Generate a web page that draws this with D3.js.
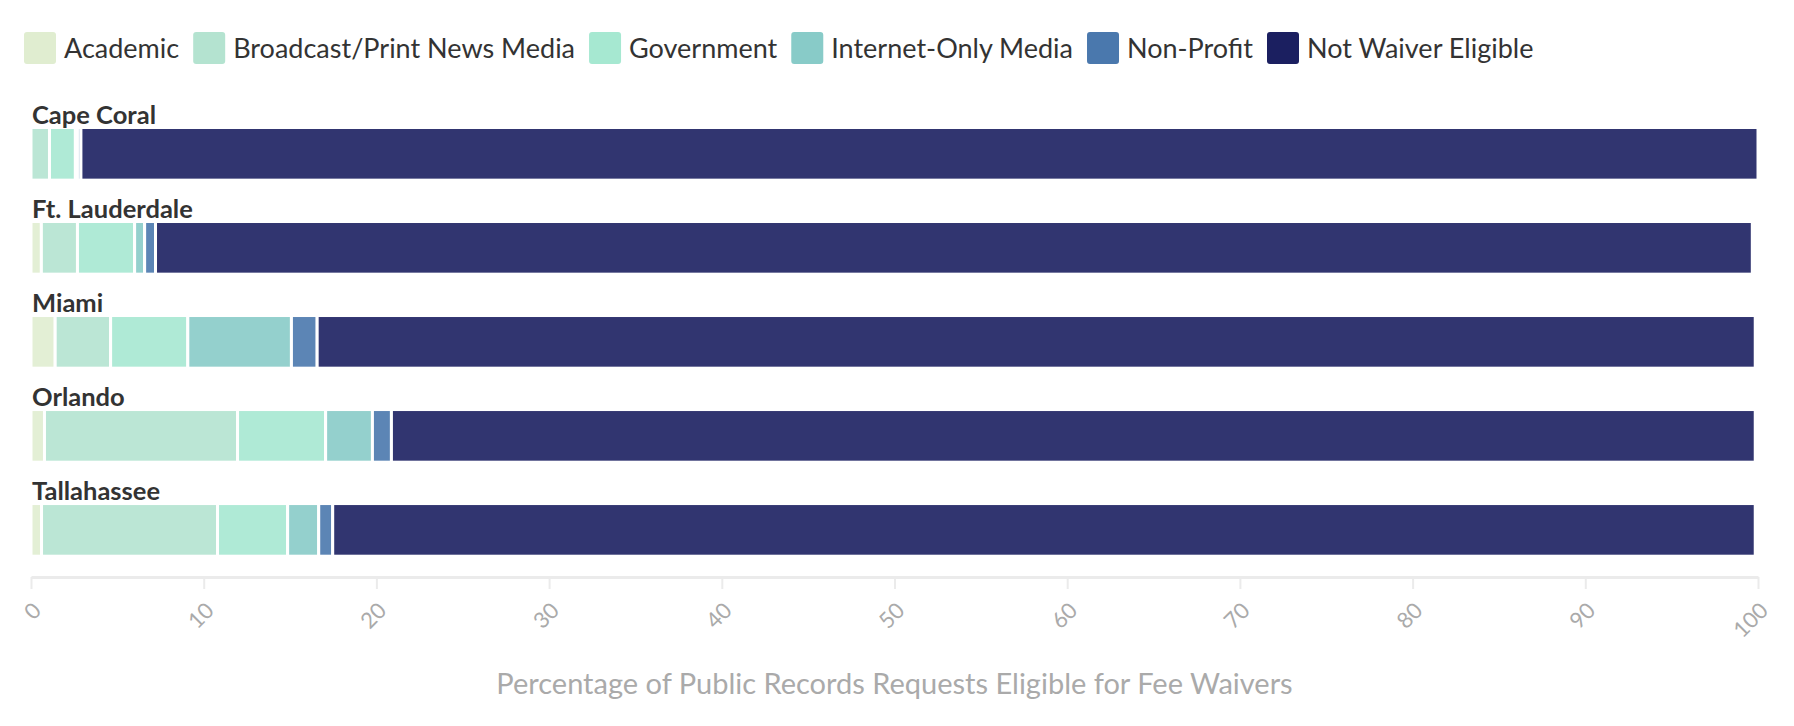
<!doctype html>
<meta charset="utf-8">
<title>Fee waiver eligibility</title>
<script src="https://cdnjs.cloudflare.com/ajax/libs/d3/7.8.5/d3.min.js"></script>
<style>
  body { margin: 0; background: #fff; }
  text { font-family: "Lato", "Open Sans", sans-serif; }
</style>
<div class="chart"></div>
<script>
  // data (percent of requests)
  const cities = ["Cape Coral", "Ft. Lauderdale", "Miami", "Orlando", "Tallahassee"]
  const categories = ["Academic", "Broadcast/Print News Media", "Government", "Internet-Only Media", "Non-Profit", "Not Waiver Eligible"]
  const academic = [0, 0.6, 1.4, 0.78, 0.61]
  const broadcast = [1.07, 2.09, 3.21, 11.18, 10.19]
  const government = [1.5, 3.31, 4.47, 5.1, 4.06]
  const internetOnly = [0.12, 0.58, 6.0, 2.71, 1.8]
  const nonProfit = [0.2, 0.63, 1.49, 1.1, 0.81]
  const notEligible = [97.11, 92.46, 83.27, 78.97, 82.37]
  const xTicks = [0, 10, 20, 30, 40, 50, 60, 70, 80, 90, 100]
  const colors = ["#e0edd0", "#b4e3d0", "#a6e8d1", "#88cbc8", "#4a78ad", "#1b1f60"]

  const series = [academic, broadcast, government, internetOnly, nonProfit, notEligible]
  const rows = cities.map((c, i) => {
    const r = { city: c }
    categories.forEach((k, j) => r[k] = series[j][i])
    return r
  })

  const width = 1794, height = 726

  const svg = d3.select('.chart')
    .append('svg')
    .attr('width', width)
    .attr('height', height)

  const x = d3.scaleLinear().domain([0, 100]).range([31, 1758])
  const y = d3.scaleBand().domain(cities).range([127.5, 556.2]).paddingInner(0.44).paddingOuter(0)
  const color = d3.scaleOrdinal().domain(categories).range(colors)

  // legend
  const legend = svg.append('g').attr('class', 'legend')
  let lx = 24
  categories.forEach(k => {
    const item = legend.append('g').attr('transform', `translate(${lx}, 32)`)
    item.append('rect')
      .attr('width', 32)
      .attr('height', 32)
      .attr('rx', 3)
      .attr('fill', color(k))
    const t = item.append('text')
      .attr('x', 40)
      .attr('y', 17)
      .attr('dy', '0.35em')
      .attr('font-size', 27)
      .attr('fill', '#333')
      .text(k)
    lx += 40 + t.node().getComputedTextLength() + 14
  })

  // stacked bars
  const stacked = d3.stack().keys(categories)(rows)

  svg.append('g')
    .selectAll('g')
    .data(stacked)
    .join('g')
    .attr('fill', d => color(d.key))
    .attr('fill-opacity', 0.9)
    .selectAll('rect')
    .data(d => d)
    .join('rect')
    .attr('x', d => x(d[0]))
    .attr('y', d => y(d.data.city))
    .attr('width', d => x(d[1]) - x(d[0]))
    .attr('height', y.bandwidth())
    .attr('stroke', '#fff')
    .attr('stroke-width', 3)

  // city labels
  svg.append('g')
    .selectAll('text')
    .data(cities)
    .join('text')
    .attr('x', 32)
    .attr('y', d => y(d) - 3.5)
    .attr('font-size', 25.5)
    .attr('font-weight', 'bold')
    .attr('fill', '#333')
    .text(d => d)

  // x axis
  const axis = svg.append('g')
    .attr('transform', 'translate(0, 577)')
    .call(d3.axisBottom(x).tickValues(xTicks).tickSize(12).tickSizeOuter(0))

  axis.select('.domain').attr('stroke', '#ebebeb').attr('stroke-width', 3)
  axis.selectAll('.tick line').attr('stroke', '#ebebeb').attr('stroke-width', 2)
  axis.selectAll('.tick text')
    .attr('x', 0)
    .attr('y', 0)
    .attr('dy', 0)
    .attr('transform', 'translate(11, 35) rotate(-45)')
    .attr('text-anchor', 'end')
    .attr('font-family', 'Lato, sans-serif')
    .attr('font-size', 22)
    .attr('fill', '#aaa')

  svg.append('text')
    .attr('x', (x(0) + x(100)) / 2)
    .attr('y', 694)
    .attr('text-anchor', 'middle')
    .attr('font-size', 29)
    .attr('fill', '#aaa')
    .text('Percentage of Public Records Requests Eligible for Fee Waivers')
</script>
